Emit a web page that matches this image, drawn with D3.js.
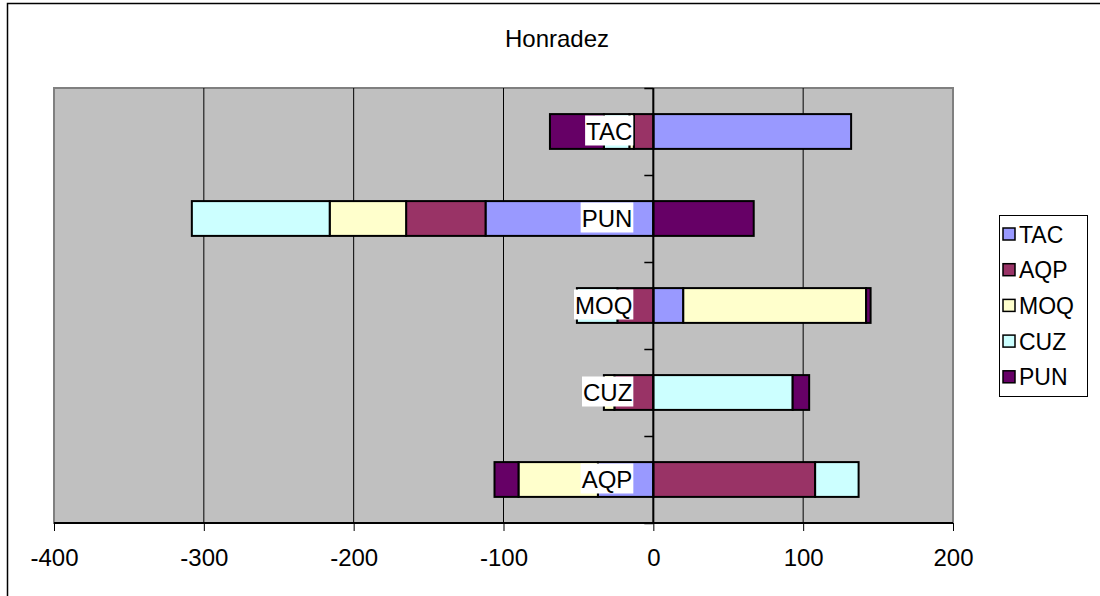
<!DOCTYPE html>
<html>
<head>
<meta charset="utf-8">
<script src="https://cdn.jsdelivr.net/npm/d3@7"></script>
<style>
  body { margin: 0; background: #fff; }
  svg { display: block; font-family: 'Liberation Sans', Arial, sans-serif; }
</style>
</head>
<body>
<div id="chart"></div>
<script>
// Categories, top to bottom as they appear on the chart
const categories = ['TAC', 'PUN', 'MOQ', 'CUZ', 'AQP'];
const seriesNames = ['TAC', 'AQP', 'MOQ', 'CUZ', 'PUN'];

// One value per category (same order as categories)
const tacValues = [132, -112, 20, 0, -37];
const aqpValues = [-13, -53, -24, -26, 108];
const moqValues = [-3, -51, 122, -7, -53];
const cuzValues = [-17, -92, -27, 93, 29];
const punValues = [-36, 67, 3, 11, -16];

const xTicks = [-400, -300, -200, -100, 0, 100, 200];
const seriesColors = ['#9999FF', '#993366', '#FFFFCC', '#CCFFFF', '#660066'];

const width = 1100;
const height = 596;
const plot = { left: 54, right: 953, top: 88, bottom: 523 };

const svg = d3.select('#chart').append('svg').attr('width', width).attr('height', height);

// Chart area border (runs off the right/bottom edge like the original)
svg
  .append('rect')
  .attr('x', 7.5)
  .attr('y', 3.5)
  .attr('width', 1200)
  .attr('height', 700)
  .attr('fill', '#fff')
  .attr('stroke', '#000')
  .attr('stroke-width', 1.5);

// Title
svg
  .append('text')
  .attr('x', 557)
  .attr('y', 47)
  .attr('text-anchor', 'middle')
  .style('font-size', '24px')
  .text('Honradez');

// Scales
const x = d3.scaleLinear().domain([-400, 200]).range([plot.left, plot.right]);
const y = d3
  .scaleBand()
  .domain(categories)
  .range([plot.top, plot.bottom])
  .paddingInner(0.6)
  .paddingOuter(0.3);

// Plot background
svg
  .append('rect')
  .attr('x', plot.left)
  .attr('y', plot.top)
  .attr('width', plot.right - plot.left)
  .attr('height', plot.bottom - plot.top)
  .attr('fill', '#C0C0C0')
  .attr('stroke', '#808080')
  .attr('stroke-width', 2);

// Vertical gridlines
svg
  .append('g')
  .selectAll('line')
  .data(xTicks.slice(1, -1))
  .enter()
  .append('line')
  .attr('x1', (d) => x(d))
  .attr('x2', (d) => x(d))
  .attr('y1', plot.top)
  .attr('y2', plot.bottom)
  .attr('stroke', '#000')
  .attr('stroke-width', 1);

// Build rows and stack positives/negatives separately
const rows = categories.map((c, i) => ({
  category: c,
  TAC: tacValues[i],
  AQP: aqpValues[i],
  MOQ: moqValues[i],
  CUZ: cuzValues[i],
  PUN: punValues[i],
}));

const stacked = d3.stack().keys(seriesNames).offset(d3.stackOffsetDiverging)(rows);

const layers = svg
  .append('g')
  .attr('class', 'bars')
  .selectAll('g')
  .data(stacked)
  .enter()
  .append('g')
  .attr('fill', (d, i) => seriesColors[i]);

layers
  .selectAll('rect')
  .data((d) => d.filter((s) => s[0] !== s[1]))
  .enter()
  .append('rect')
  .attr('x', (d) => x(Math.min(d[0], d[1])))
  .attr('width', (d) => Math.abs(x(d[1]) - x(d[0])))
  .attr('y', (d) => y(d.data.category))
  .attr('height', y.bandwidth())
  .attr('stroke', '#000')
  .attr('stroke-width', 2);

// Category axis crossing at zero
const catAxis = d3.scaleLinear().domain([0, categories.length]).range([plot.bottom, plot.top]);
const catG = svg
  .append('g')
  .attr('transform', `translate(${x(0)},0)`)
  .call(d3.axisLeft(catAxis).ticks(categories.length).tickSize(9).tickFormat(''));
catG.select('.domain').remove();
catG.selectAll('.tick line').attr('stroke', '#000').attr('stroke-width', 1.5);
catG
  .append('line')
  .attr('y1', plot.top)
  .attr('y2', plot.bottom)
  .attr('stroke', '#000')
  .attr('stroke-width', 2);

// Category labels on white boxes
const labels = svg.append('g').attr('class', 'cat-labels');
categories.forEach((c) => {
  const cy = y(c) + y.bandwidth() / 2;
  const g = labels.append('g');
  const t = g
    .append('text')
    .attr('x', x(0) - 21)
    .attr('y', cy + 8)
    .attr('text-anchor', 'end')
    .style('font-size', '24px')
    .text(c);
  const bb = t.node().getBBox();
  g.insert('rect', 'text')
    .attr('x', bb.x - 1)
    .attr('y', cy - 16)
    .attr('width', bb.width + 2)
    .attr('height', 30)
    .attr('fill', '#fff');
});

// X axis
const xAxis = svg
  .append('g')
  .attr('transform', `translate(0,${plot.bottom})`)
  .call(
    d3
      .axisBottom(x)
      .tickValues(xTicks)
      .tickSize(8)
      .tickFormat((d) => String(d))
  );
xAxis.select('.domain').remove();
xAxis.selectAll('.tick line').attr('stroke', '#000');
xAxis
  .selectAll('.tick text')
  .attr('y', 43)
  .attr('dy', 0)
  .attr('fill', '#000')
  .style('font-size', '24px')
  .style('font-family', "'Liberation Sans', Arial, sans-serif");
xAxis
  .append('line')
  .attr('x1', plot.left)
  .attr('x2', plot.right)
  .attr('stroke', '#000')
  .attr('stroke-width', 2);

// Legend
const legend = svg.append('g').attr('class', 'legend');
legend
  .append('rect')
  .attr('x', 999.5)
  .attr('y', 215.5)
  .attr('width', 88)
  .attr('height', 181)
  .attr('fill', '#fff')
  .attr('stroke', '#000')
  .attr('stroke-width', 1);

seriesNames.forEach((name, i) => {
  const cy = 234 + i * 35.7;
  legend
    .append('rect')
    .attr('x', 1003)
    .attr('y', cy - 6)
    .attr('width', 12)
    .attr('height', 12)
    .attr('fill', seriesColors[i])
    .attr('stroke', '#000')
    .attr('stroke-width', 1.5);
  legend
    .append('text')
    .attr('x', 1019)
    .attr('y', cy + 8.5)
    .style('font-size', '23px')
    .text(name);
});
</script>
</body>
</html>
